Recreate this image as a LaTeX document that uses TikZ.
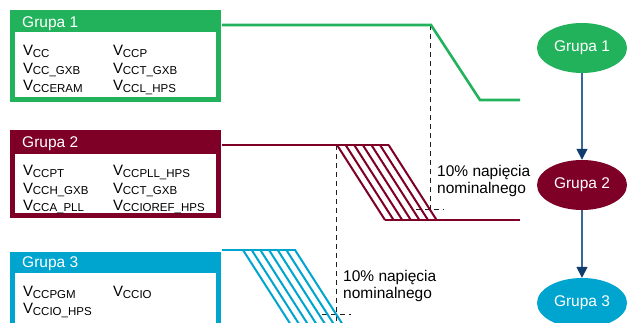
\documentclass[tikz,border=0pt]{standalone}
\usepackage{fontspec}
\setmainfont{Liberation Sans}
\usetikzlibrary{arrows.meta,shapes.geometric}
\definecolor{gA}{RGB}{33,178,91}
\definecolor{gB}{RGB}{126,0,39}
\definecolor{gC}{RGB}{0,165,207}
\definecolor{arr}{RGB}{58,104,150}
\definecolor{arrhead}{RGB}{16,60,107}
\definecolor{dashc}{RGB}{30,30,30}
\newcommand{\Vs}[1]{V\kern-0.3pt\raisebox{-1.5pt}{\fontsize{11.5}{11.5}\selectfont #1}}
\begin{document}
\begin{tikzpicture}[x=1pt,y=-1pt,
  hdr/.style={anchor=base west,text=white,font=\fontsize{15.5}{15.5}\selectfont,inner sep=0pt},
  vtxt/.style={anchor=base west,font=\fontsize{15}{15}\selectfont,inner sep=0pt},
  note/.style={anchor=base west,font=\fontsize{15.5}{15.5}\selectfont,inner sep=0pt,align=left},
  wave/.style={line width=2.6pt},
  hatch/.style={line width=2pt},
  guide/.style={dashc,line width=0.9pt,dash pattern=on 5pt off 4pt},
  grp/.style={ellipse,minimum width=90pt,minimum height=50pt,inner sep=0pt,text=white,font=\fontsize{15.5}{15.5}\selectfont},
  conn/.style={arr,line width=1.6pt,-{Triangle[length=11pt,width=11pt,color=arrhead]}}
]
\useasboundingbox (0,0) rectangle (630,323);
\begin{scope}
\clip (0,0) rectangle (630,323);
% ---- Group 1 box
\fill[gA] (10,10) rectangle (221,102);
\fill[white] (15,32) rectangle (216,97);
\node[hdr] (h1) at (22,28) {Grupa 1};
\node[vtxt] (a1) at (23,56) {\Vs{CC}};
\node[vtxt] (a2) at (23,73.5) {\Vs{CC\_GXB}};
\node[vtxt] (a3) at (23,91) {\Vs{CCERAM}};
\node[vtxt] (b1) at (113,56) {\Vs{CCP}};
\node[vtxt] (b2) at (113,73.5) {\Vs{CCT\_GXB}};
\node[vtxt] (b3) at (113,91) {\Vs{CCL\_HPS}};
% ---- Group 2 box
\fill[gB] (10,130) rectangle (221,218);
\fill[white] (15,154) rectangle (216,213.5);
\node[hdr] (h2) at (22,148) {Grupa 2};
\node[vtxt] (c1) at (23,176) {\Vs{CCPT}};
\node[vtxt] (c2) at (23,193.5) {\Vs{CCH\_GXB}};
\node[vtxt] (c3) at (23,210.5) {\Vs{CCA\_PLL}};
\node[vtxt] (d1) at (113,176) {\Vs{CCPLL\_HPS}};
\node[vtxt] (d2) at (113,193.5) {\Vs{CCT\_GXB}};
\node[vtxt] (d3) at (113,210.5) {\Vs{CCIOREF\_HPS}};
% ---- Group 3 box
\fill[gC] (10,252) rectangle (221,340);
\fill[white] (15,273) rectangle (216,335);
\node[hdr] (h3) at (22,268) {Grupa 3};
\node[vtxt] (e1) at (23,297) {\Vs{CCPGM}};
\node[vtxt] (e2) at (23,314) {\Vs{CCIO\_HPS}};
\node[vtxt] (f1) at (113,297) {\Vs{CCIO}};
% ---- dashed guides
\draw[guide] (430.5,25) -- (430.5,210);
\draw[guide] (416,209.5) -- (444,209.5);
\draw[guide] (336.5,145) -- (336.5,323);
\draw[guide] (322,314) -- (351,314);
% ---- Group 1 wave
\draw[gA,wave,line join=miter] (222,25) -- (431,25) -- (480,100) -- (520,100);
% ---- Group 2 wave
\draw[gB,wave] (222,145) -- (389,145);
\draw[gB,wave] (385,220) -- (520,220);
\foreach \i in {0,...,6}{
  \draw[gB,hatch] ({337+8.6*\i},145) -- ({385+8.6*\i},220);
}
% ---- Group 3 wave
\draw[gC,wave] (222,250) -- (296,250);
\foreach \i in {0,...,6}{
  \draw[gC,hatch] ({243+8.67*\i},250) -- ({291+8.67*\i},325);
}
% ---- notes
\node[note] (n1) at (437,177) {10\% napięcia};
\node[note] (n1b) at (437,193.5) {nominalnego};
\node[note] (n2) at (343,282) {10\% napięcia};
\node[note] (n2b) at (343,298.5) {nominalnego};
% ---- ellipses
\node[grp,fill=gA] (E1) at (582,48) {Grupa 1};
\node[grp,fill=gB] (E2) at (582,185) {Grupa 2};
\node[grp,fill=gC] (E3) at (582,303) {Grupa 3};
\draw[conn] (E1) -- (E2);
\draw[conn] (E2) -- (E3);
\end{scope}
\end{tikzpicture}
\end{document}
